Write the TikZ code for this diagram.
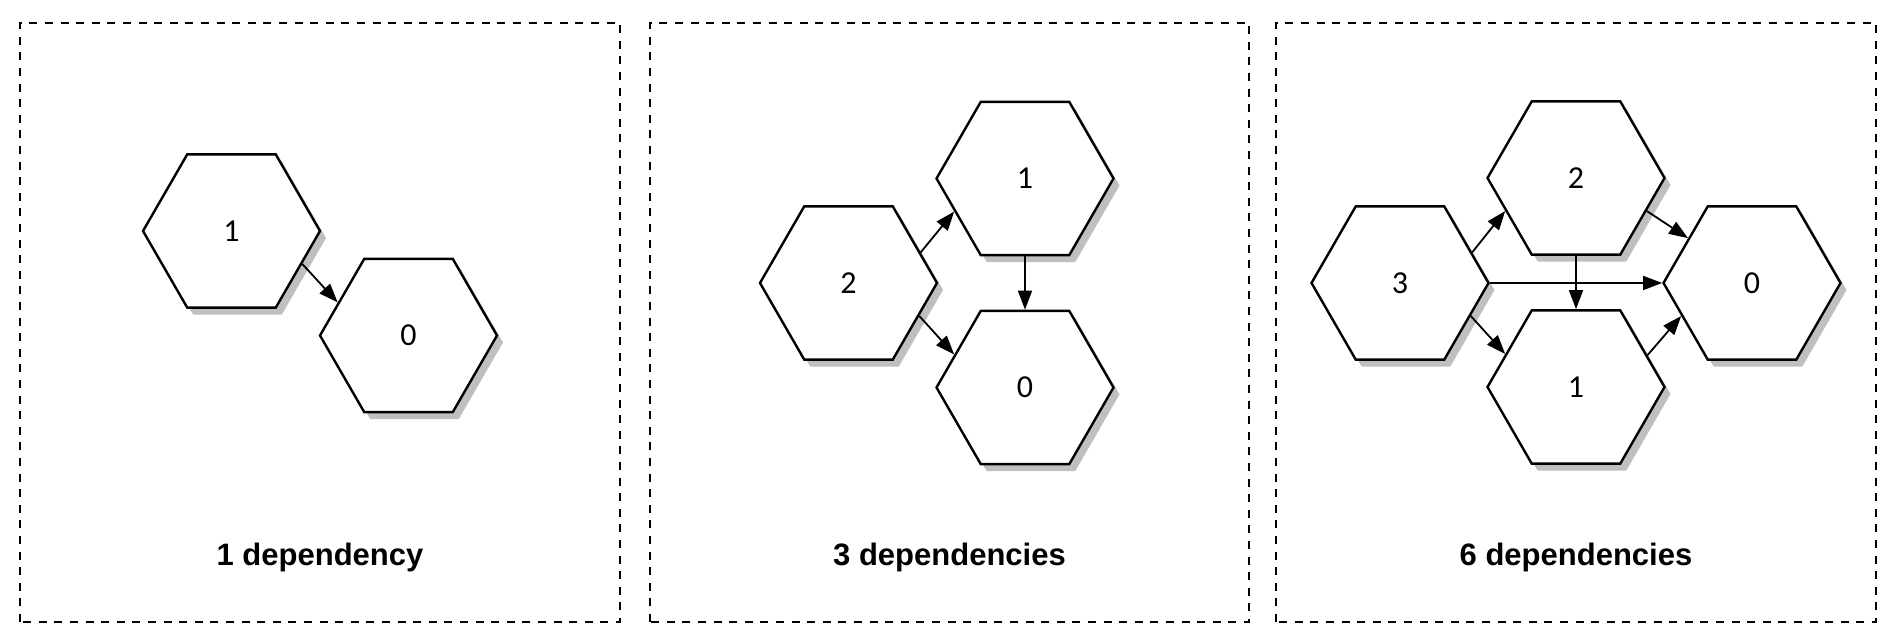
\documentclass[tikz,border=0pt]{standalone}
\usepackage{fontspec}
\newfontfamily\cellfont{Carlito}
\newfontfamily\panelfont{Liberation Sans}
\usetikzlibrary{shapes.geometric, shadows, arrows.meta}
\definecolor{shadowgray}{HTML}{BFBFBF}

\begin{document}
\begin{tikzpicture}[x=0.5pt, y=0.5pt,
  cell/.style={regular polygon, regular polygon sides=6,
    minimum size=88.5pt, inner sep=0pt, draw, line width=1.2pt, fill=white,
    font=\cellfont\fontsize{16}{18}\selectfont,
    drop shadow={shadow xshift=3pt, shadow yshift=-3.5pt, fill=shadowgray, opacity=1}},
  dep/.style={-{Triangle[length=9.5pt, width=7pt]}, line width=0.9pt},
  panelbox/.style={line width=1pt, dash pattern=on 4pt off 3.8pt},
  caption/.style={anchor=base, font=\panelfont\bfseries\fontsize{15.5}{18}\selectfont}]
  \useasboundingbox (0,0) rectangle (1895,641);

  % 三个虚线框
  \draw[panelbox] (20,19) rectangle (620,618);
  \draw[panelbox] (650,19) rectangle (1249,618);
  \draw[panelbox] (1276,19) rectangle (1876,618);

  % 面板 1
  \node[cell] (a1) at (231.5,410) {1};
  \node[cell] (a0) at (408.5,305.5) {0};
  \draw[dep] (a1.-25) -- (a0.155);
  \node[caption] (la) at (320,75) {1 dependency};

  % 面板 2
  \node[cell] (b2) at (848.5,358) {2};
  \node[cell] (b1) at (1025,462.5) {1};
  \node[cell] (b0) at (1025,253.5) {0};
  \draw[dep] (b2.23) -- (b1.205);
  \draw[dep] (b2.-25) -- (b0.155);
  \draw[dep] (b1.-90) -- (b0.90);
  \node[caption] (lb) at (949.5,75) {3 dependencies};

  % 面板 3
  \node[cell] (c3) at (1400,358) {3};
  \node[cell] (c2) at (1576,463) {2};
  \node[cell] (c1) at (1576,254) {1};
  \node[cell] (c0) at (1752,358) {0};
  \draw[dep] (c3.23) -- (c2.205);
  \draw[dep] (c3.-25) -- (c1.155);
  \draw[dep] (c3.0) -- (c0.180);
  \draw[dep] (c2.-90) -- (c1.90);
  \draw[dep] (c2.-25) -- (c0.145);
  \draw[dep] (c1.24) -- (c0.205);
  \node[caption] (lc) at (1576,75) {6 dependencies};
\end{tikzpicture}
\end{document}
